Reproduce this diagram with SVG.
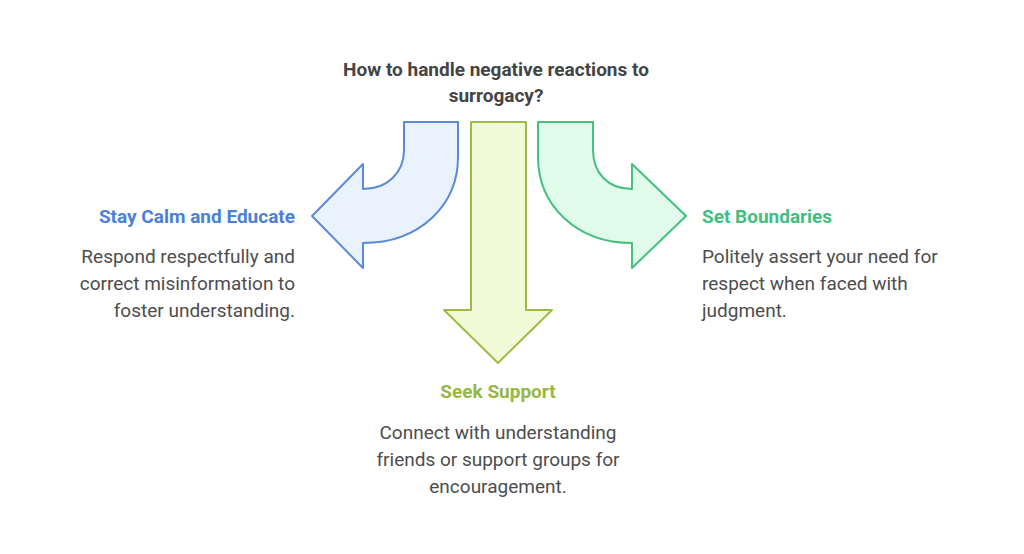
<svg xmlns="http://www.w3.org/2000/svg" width="1024" height="554" viewBox="0 0 1024 554">
<style>
text{font-family:Roboto,"Liberation Sans",sans-serif;font-size:19px;fill:#4d4d4d}
.t{font-weight:bold;fill:#444}
.h{font-weight:bold}
.a{stroke-width:2;stroke-linejoin:round}
</style>
<rect width="1024" height="554" fill="#fff"/>
<g id="title"><text class="t" x="496" y="76" text-anchor="middle">How to handle negative reactions to</text><text class="t" x="496" y="102" text-anchor="middle">surrogacy?</text></g>
<g id="connectors">
<path class="a" fill="#eaf2fd" stroke="#5a8ad8" d="M404,122 H458 V157 C458,205 420,243 363,243 V268 L312,216 L363,164 V189 C388,189 404,172 404,150 Z"/>
<path class="a" fill="#f1fbd8" stroke="#9dbb44" d="M471,122 H526 V310 H552 L498,363 L444,310 H471 Z"/>
<path class="a" fill="#e1fbeb" stroke="#45c07f" d="M593,122 H538 V157 C538,205 576,243 632,243 V268 L686,216 L632,164 V189 C607,189 593,172 593,150 Z"/>
</g>
<g id="left"><text class="h" x="295" y="223" text-anchor="end" fill="#4a80d8" style="fill:#4a80d8">Stay Calm and Educate</text>
<text x="295" y="263" text-anchor="end">Respond respectfully and</text><text x="295" y="290" text-anchor="end">correct misinformation to</text><text x="295" y="317" text-anchor="end">foster understanding.</text></g>
<g id="right"><text class="h" x="702" y="223" style="fill:#3fbf7f">Set Boundaries</text>
<text x="702" y="263">Politely assert your need for</text><text x="702" y="290">respect when faced with</text><text x="702" y="317">judgment.</text></g>
<g id="bottom"><text class="h" x="498" y="398" text-anchor="middle" style="fill:#97b840">Seek Support</text>
<text x="498" y="439" text-anchor="middle">Connect with understanding</text><text x="498" y="466" text-anchor="middle">friends or support groups for</text><text x="498" y="493" text-anchor="middle">encouragement.</text></g>
</svg>
